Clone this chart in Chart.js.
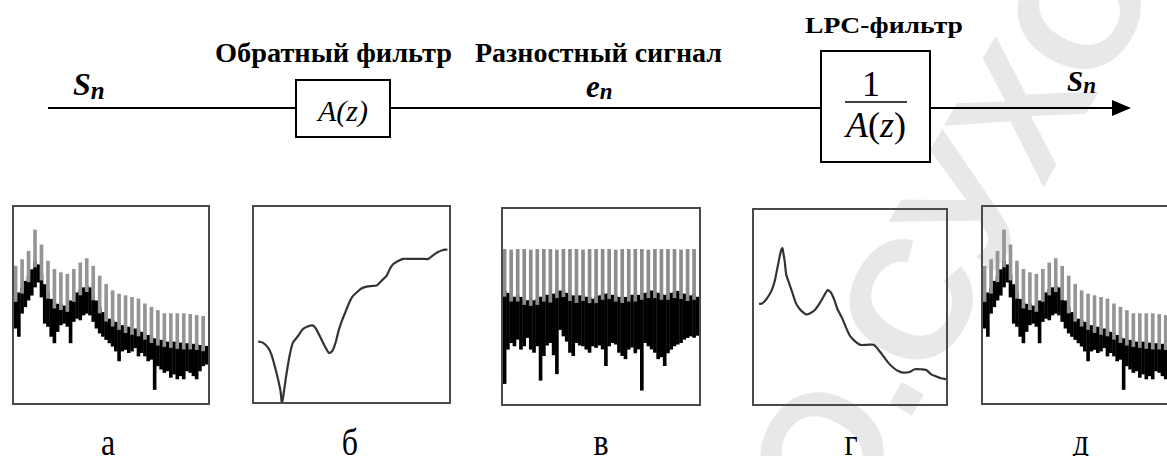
<!DOCTYPE html>
<html>
<head>
<meta charset="utf-8">
<script src="https://cdn.jsdelivr.net/npm/chart.js@4/dist/chart.umd.min.js"></script>
<style>
  html, body { margin: 0; padding: 0; width: 1167px; height: 456px; overflow: hidden; background: #fff; }
  #scheme { position: absolute; left: 0; top: 0; }
  .serif { font-family: 'Liberation Serif', 'Times New Roman', serif; }
  .panel { position: absolute; box-sizing: border-box; border: 2px solid #4a4a4a; }
  .panel canvas { display: block; filter: blur(0.35px); }
</style>
</head>
<body>

<svg id="scheme" width="1167" height="456" xmlns="http://www.w3.org/2000/svg">
  <!-- background mark -->
  <text x="840" y="540" transform="rotate(-60 840 540)" style="font-family:'Liberation Sans', Arial, sans-serif"
        font-weight="bold" font-size="170" fill="#e8e8e8">О.СУХОГО</text>

  <!-- signal path -->
  <g stroke="#000" stroke-width="2" fill="none">
    <line x1="48" y1="108" x2="296" y2="108"/>
    <rect x="296" y="80" width="94" height="57"/>
    <line x1="390" y1="108" x2="821" y2="108"/>
    <rect x="821" y="51" width="109" height="111"/>
    <line x1="930" y1="108" x2="1116" y2="108"/>
    <line x1="845" y1="102" x2="907" y2="102" stroke-width="1.5"/>
  </g>
  <polygon points="1112,100 1131,108 1112,116" fill="#000"/>

  <g class="serif" fill="#000">
    <text x="215" y="62" font-weight="bold" font-size="27" textLength="237" lengthAdjust="spacingAndGlyphs">Обратный фильтр</text>
    <text x="475" y="62" font-weight="bold" font-size="27" textLength="247" lengthAdjust="spacingAndGlyphs">Разностный сигнал</text>
    <text x="805" y="33" font-weight="bold" font-size="23" textLength="158" lengthAdjust="spacingAndGlyphs">LPC-фильтр</text>

    <text x="73" y="95" font-weight="bold" font-style="italic" font-size="32">S<tspan font-size="25" dy="4">n</tspan></text>
    <text x="586" y="97" font-weight="bold" font-style="italic" font-size="31">e<tspan font-size="23" dy="2">n</tspan></text>
    <text x="1067" y="91" font-weight="bold" font-style="italic" font-size="29">S<tspan font-size="23" dy="2">n</tspan></text>

    <text x="343" y="121" font-style="italic" font-size="30" text-anchor="middle">A(z)</text>
    <text x="871" y="96" font-size="36" text-anchor="middle">1</text>
    <text x="876" y="137" font-size="36" text-anchor="middle"><tspan font-style="italic">A</tspan>(<tspan font-style="italic">z</tspan>)</text>
  </g>

  <g id="letters" class="serif" font-size="32" fill="#000"></g>
</svg>

<div class="panel" style="left:12px;top:205px;width:198px;height:200px"><canvas id="pA"></canvas></div>
<div class="panel" style="left:252px;top:205px;width:199px;height:199px"><canvas id="pB"></canvas></div>
<div class="panel" style="left:501px;top:207px;width:200px;height:199px"><canvas id="pC"></canvas></div>
<div class="panel" style="left:752px;top:208px;width:196px;height:198px"><canvas id="pD"></canvas></div>
<div class="panel" style="left:981px;top:205px;width:198px;height:200px"><canvas id="pE"></canvas></div>

<script>
// Frequency bins of the short-time spectrum (60 columns, harmonics on even bins)
const bins = Array.from({ length: 60 }, (_, i) => i);

// Speech spectrum |S(f)|, relative level 0..100
const specPeaks = [69.8, 73.2, 77.4, 88.3, 80.7, 72.4, 68.2, 66.5, 65.7, 68.2,
                   71.5, 73.7, 69.8, 64.8, 60.6, 57.3, 55.6, 54.8, 53.9, 53.1,
                   50.6, 48.9, 47.2, 45.6, 45.6, 45.6, 45.6, 45.2, 44.7, 44.2];
const specTop = [54.8, 56.4, 59.0, 62.3, 64.8, 68.2, 72.4, 70.7, 65.7, 60.6,
                 56.4, 53.1, 51.4, 50.6, 50.6, 49.7, 49.7, 52.3, 54.8, 56.4,
                 58.1, 59.0, 59.8, 59.0, 55.6, 52.3, 48.9, 46.4, 44.7, 43.0,
                 42.2, 41.4, 40.5, 39.7, 38.9, 38.9, 38.0, 38.0, 37.2, 36.3,
                 35.5, 34.7, 33.8, 33.0, 32.5, 32.2, 31.8, 31.3, 31.3, 31.3,
                 30.8, 30.8, 30.5, 30.5, 30.5, 30.2, 30.2, 29.6, 29.6, 29.1];
const specBottom = [38.0, 33.8, 45.6, 48.9, 52.3, 54.8, 59.0, 61.5, 53.9, 40.5,
                    38.9, 33.8, 30.5, 36.3, 39.7, 40.5, 38.9, 30.5, 41.4, 43.0,
                    42.2, 44.7, 45.6, 44.7, 41.4, 38.0, 35.5, 33.8, 32.2, 30.5,
                    28.8, 26.3, 21.3, 26.3, 27.1, 25.5, 26.3, 28.0, 23.8, 25.5,
                    23.8, 21.3, 22.1, 6.7, 18.8, 17.1, 15.4, 16.2, 12.9, 14.6,
                    12.1, 13.7, 12.1, 16.2, 15.4, 13.7, 12.1, 16.2, 18.8, 19.6];

// Inverse filter response |A(f)|
const invX = [2.2, 4.7, 7.3, 8.9, 10.6, 12.3, 13.7, 14.3, 15.3, 16.5, 18.2, 19.9,
              22.4, 25.0, 27.5, 30.0, 31.7, 33.4, 35.9, 38.4, 40.1, 41.8, 43.5, 45.2,
              46.9, 48.6, 50.3, 52.8, 55.3, 57.8, 60.4, 62.9, 64.6, 66.3, 68.0, 69.6,
              71.3, 73.9, 76.4, 79.8, 83.1, 86.5, 89.4, 91.6, 94.1, 96.6, 99.2];
const invY = [31.1, 30.3, 27.7, 24.4, 18.5, 11.8, 5.0, -1.0, 5.0, 13.4, 23.5, 30.3,
              33.6, 37.3, 38.7, 39.3, 37.8, 34.5, 29.4, 25.2, 26.1, 30.3, 37.0, 42.0,
              46.2, 50.4, 53.8, 56.3, 58.3, 59.2, 59.5, 59.7, 61.3, 63.0, 64.7, 68.1,
              70.6, 72.3, 73.4, 73.4, 73.4, 73.4, 73.4, 75.1, 76.8, 77.8, 78.2];

// Residual (prediction error) spectrum |E(f)|
const resPeaks = [79.3, 79.0, 79.3, 79.3, 79.0, 79.3, 79.3, 79.3, 79.0, 79.3,
                  79.3, 79.3, 79.0, 79.3, 79.3, 79.3, 79.3, 79.0, 79.3, 79.3,
                  79.3, 79.3, 79.0, 79.3, 79.3, 79.3, 79.3, 79.0, 79.3, 79.3];
const resTop = [58.2, 57.0, 55.7, 55.0, 55.7, 54.9, 54.0, 53.2, 53.5, 53.2,
                54.0, 55.0, 55.7, 56.0, 55.2, 56.6, 57.5, 58.2, 58.0, 57.0,
                56.0, 55.7, 55.0, 55.7, 56.0, 55.0, 54.9, 54.0, 54.9, 55.7,
                56.6, 56.6, 57.0, 56.0, 55.7, 54.9, 55.0, 54.9, 55.7, 56.0,
                55.7, 56.0, 56.6, 57.0, 57.5, 58.2, 57.5, 57.0, 56.6, 56.0,
                56.6, 57.0, 57.5, 58.0, 57.0, 56.6, 56.0, 55.7, 56.6, 55.0];
const resBottom = [10.3, 27.9, 31.3, 29.6, 33.0, 27.9, 29.6, 33.9, 27.9, 26.3,
                   29.6, 12.0, 24.6, 30.0, 31.3, 25.0, 15.3, 38.0, 34.7, 32.0,
                   26.3, 24.6, 31.3, 30.0, 29.6, 27.9, 26.3, 29.6, 28.8, 30.0,
                   28.0, 19.5, 29.6, 31.3, 30.5, 26.3, 24.6, 23.0, 27.9, 29.0,
                   26.0, 28.0, 6.9, 31.3, 29.6, 28.0, 26.3, 23.0, 24.0, 19.5,
                   26.0, 27.9, 29.6, 30.5, 31.3, 33.0, 33.9, 34.7, 34.0, 35.0];

// LPC synthesis filter envelope |1/A(f)|
const envX = [2.6, 4.3, 6.5, 9.1, 10.8, 12.2, 13.4, 14.2, 14.8, 15.3, 16.0, 16.8,
              18.5, 20.2, 22.0, 23.7, 25.4, 27.1, 28.8, 31.4, 34.0, 36.5, 38.3, 40.0,
              41.7, 43.4, 46.0, 48.5, 50.3, 52.8, 55.4, 58.8, 62.3, 64.8, 67.4, 70.0,
              72.6, 75.1, 77.7, 81.1, 83.7, 87.1, 89.7, 92.3, 94.9, 97.4, 100];
const envY = [51.6, 51.9, 54.1, 58.3, 63.4, 70.2, 76.1, 79.4, 80.3, 77.7, 73.5, 66.8,
              61.7, 56.7, 51.6, 49.1, 47.4, 46.2, 46.5, 48.2, 51.6, 55.8, 58.7, 57.5,
              54.1, 49.1, 44.0, 38.1, 34.7, 32.2, 30.5, 30.5, 30.5, 28.0, 24.6, 21.2,
              18.7, 17.0, 16.2, 16.5, 17.9, 17.9, 17.5, 15.3, 14.2, 13.3, 12.8];

const panelLetters = ['а', 'б', 'в', 'г', 'д'];
const letterX = [108, 350, 601, 851, 1081];

// captions under the panels
const lg = document.getElementById('letters');
panelLetters.forEach((ch, i) => {
  const t = document.createElementNS('http://www.w3.org/2000/svg', 'text');
  t.setAttribute('transform', `translate(${letterX[i]} 455) scale(1 1.18)`);
  t.setAttribute('text-anchor', 'middle');
  t.textContent = ch;
  lg.appendChild(t);
});

const common = {
  animation: false,
  responsive: true,
  maintainAspectRatio: false,
  events: [],
  layout: { padding: 0 },
  plugins: { legend: { display: false }, tooltip: { enabled: false } }
};

function spectrum(id, peaks, top, bottom, harmColor) {
  const band = bins.map(i => [bottom[i], top[i]]);
  const harm = bins.map(i => (i % 2 === 0 ? [top[i] - 3, peaks[i / 2]] : null));
  new Chart(document.getElementById(id), {
    type: 'bar',
    data: {
      labels: bins,
      datasets: [
        { data: harm, backgroundColor: harmColor, barThickness: 3, grouped: false, order: 1 },
        { data: band, backgroundColor: '#000', barPercentage: 1.12, categoryPercentage: 1, grouped: false, order: 2 }
      ]
    },
    options: {
      ...common,
      scales: {
        x: { display: false },
        y: { display: false, min: 0, max: 100 }
      }
    }
  });
}

function curve(id, xs, ys) {
  new Chart(document.getElementById(id), {
    type: 'line',
    data: {
      datasets: [{
        data: xs.map((x, i) => ({ x, y: ys[i] })),
        borderColor: '#333',
        borderWidth: 2.2,
        pointRadius: 0,
        tension: 0.25
      }]
    },
    options: {
      ...common,
      scales: {
        x: { type: 'linear', display: false, min: 0, max: 100 },
        y: { display: false, min: 0, max: 100 }
      }
    }
  });
}

spectrum('pA', specPeaks, specTop, specBottom, '#959595');
curve('pB', invX, invY);
spectrum('pC', resPeaks, resTop, resBottom, '#8c8c8c');
curve('pD', envX, envY);
spectrum('pE', specPeaks, specTop, specBottom, '#959595');
</script>
</body>
</html>
